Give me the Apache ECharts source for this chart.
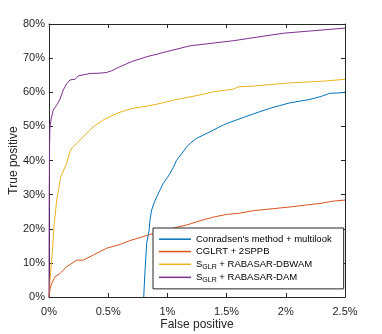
<html>
<head>
<title>ROC</title>
<script src="https://cdn.jsdelivr.net/npm/echarts@6/dist/echarts.min.js"></script>
<style type="text/css">
body{margin:0;background:#fff;}
</style>
</head>
<body>
<div id="main" style="width:382px;height:334px;"></div>
<script type="text/javascript">
// series names + curves, x = false positive (%), y = true positive (%)
var names = ["Conradsen's method + multilook", 'CGLRT + 2SPPB', 'SGLR + RABASAR-DBWAM', 'SGLR + RABASAR-DAM'];
var colors = ['#0072BD', '#D95319', '#EDB120', '#7E2F8E'];

var conX = [0.8, 0.81, 0.825, 0.845, 0.853, 0.867, 0.89, 0.91, 0.94, 0.965, 1.0, 1.022, 1.05, 1.078, 1.12, 1.163, 1.2, 1.247, 1.3, 1.36, 1.42, 1.472, 1.53, 1.585, 1.64, 1.698, 1.78, 1.866, 1.95, 2.035, 2.12, 2.204, 2.3, 2.373, 2.45, 2.5];
var conY = [0, 7, 15.7, 19.5, 22.6, 25.5, 27.8, 29.4, 31.5, 33.3, 35, 36.2, 38, 40.1, 42, 44.0, 45.3, 46.5, 47.4, 48.4, 49.5, 50.4, 51.2, 51.9, 52.6, 53.3, 54.3, 55.3, 56.1, 56.9, 57.4, 57.9, 58.8, 59.7, 59.8, 60.0];

var cglX = [0, 0.01, 0.023, 0.051, 0.093, 0.149, 0.2, 0.234, 0.29, 0.374, 0.43, 0.487, 0.6, 0.68, 0.769, 0.85, 0.937, 1.05, 1.163, 1.3, 1.4, 1.5, 1.6, 1.726, 1.9, 2.063, 2.18, 2.289, 2.4, 2.5];
var cglY = [0, 2.5, 4.0, 5.9, 6.9, 8.9, 10.0, 10.8, 10.8, 12.3, 13.3, 14.3, 15.4, 16.5, 17.4, 18.3, 19.1, 20.2, 21.1, 22.6, 23.5, 24.2, 24.5, 25.3, 25.9, 26.5, 27.0, 27.4, 28.1, 28.4];

var dbwX = [0, 0.008, 0.023, 0.042, 0.065, 0.099, 0.149, 0.177, 0.191, 0.234, 0.29, 0.374, 0.459, 0.572, 0.656, 0.712, 0.77, 0.91, 1.08, 1.275, 1.4, 1.557, 1.6, 1.726, 2.06, 2.3, 2.5];
var dbwY = [0, 5, 10.8, 20.6, 28.4, 35.2, 39.2, 42.6, 43.6, 45.0, 47.0, 49.9, 51.9, 53.8, 54.8, 55.3, 55.6, 56.5, 57.9, 59.2, 60.2, 60.9, 61.6, 61.8, 62.8, 63.2, 63.8];

var damX = [0, 0.002, 0.005, 0.008, 0.02, 0.036, 0.07, 0.093, 0.121, 0.15, 0.177, 0.22, 0.248, 0.346, 0.431, 0.487, 0.53, 0.6, 0.7, 0.825, 0.994, 1.19, 1.557, 1.98, 2.5];
var damY = [0, 30, 45, 50, 52.5, 54.8, 56.5, 58.0, 60.7, 62.5, 63.6, 63.8, 64.8, 65.5, 65.6, 65.8, 66.3, 67.5, 69.0, 70.4, 71.9, 73.6, 75.1, 77.3, 78.8];

function zip(xs, ys) {
	var out = [];
	for (var i = 0; i < xs.length; i++) out.push([xs[i], ys[i]]);
	return out;
}

var curves = [zip(conX, conY), zip(cglX, cglY), zip(dbwX, dbwY), zip(damX, damY)];
var ink = '#262626';

var series = [];
for (var i = 0; i < names.length; i++) {
	series.push({
		name: names[i],
		type: 'line',
		data: curves[i],
		symbol: 'none',
		showSymbol: false,
		animation: false,
		lineStyle: {width: 1, color: colors[i]},
		itemStyle: {color: colors[i]}
	});
}

// box axes (top/right) only draw line + inward ticks
function boxX(pos, withLabels) {
	return {
		type: 'value', position: pos,
		min: 0, max: 2.5, interval: 0.5,
		axisLine: {show: true, onZero: false, lineStyle: {color: ink, width: 1}},
		axisTick: {show: true, inside: true, length: 4, lineStyle: {color: ink}},
		axisLabel: {show: withLabels, color: ink, fontSize: 11, margin: 5, formatter: function (v) { return v + '%'; }},
		splitLine: {show: false}
	};
}
function boxY(pos, withLabels) {
	return {
		type: 'value', position: pos,
		min: 0, max: 80, interval: 10,
		axisLine: {show: true, onZero: false, lineStyle: {color: ink, width: 1}},
		axisTick: {show: true, inside: true, length: 4, lineStyle: {color: ink}},
		axisLabel: {show: withLabels, color: ink, fontSize: 11, margin: 4, formatter: '{value}%'},
		splitLine: {show: false}
	};
}

var xMain = boxX('bottom', true);
xMain.name = 'False positive';
xMain.nameLocation = 'middle';
xMain.nameGap = 17;
xMain.nameMoveOverlap = false;
xMain.nameTextStyle = {color: ink, fontSize: 12};
var yMain = boxY('left', true);
yMain.name = 'True positive';
yMain.nameLocation = 'middle';
yMain.nameGap = 25;
yMain.nameMoveOverlap = false;
yMain.nameTextStyle = {color: ink, fontSize: 12};

var myChart = echarts.init(document.getElementById('main'));
var option = {
	backgroundColor: '#fff',
	textStyle: {fontFamily: 'Liberation Sans, Arial, sans-serif'},
	grid: {left: 49, right: 37, top: 24, bottom: 37, containLabel: false, outerBoundsMode: 'none'},
	legend: {
		orient: 'vertical',
		left: 153,
		top: 228,
		padding: [3, 12, 3, 6],
		itemGap: -4,
		icon: 'rect',
		itemWidth: 32,
		itemHeight: 1.5,
		borderColor: ink,
		borderWidth: 1,
		borderRadius: 0,
		backgroundColor: '#fff',
		data: names,
		formatter: function (n) {
			if (n.indexOf('SGLR') === 0) return '{t|S}{s|GLR}{t|' + n.slice(4) + '}';
			return '{t|' + n + '}';
		},
		textStyle: {
			color: '#000',
			fontSize: 9.5,
			lineHeight: 12,
			rich: {
				t: {fontSize: 9.5, lineHeight: 12, color: '#000', fontFamily: 'Liberation Sans'},
				s: {fontSize: 7, lineHeight: 8, color: '#000', fontFamily: 'Liberation Sans', padding: [5, 0, 0, 0]}
			}
		}
	},
	xAxis: [xMain, boxX('top', false)],
	yAxis: [yMain, boxY('right', false)],
	series: series
};
myChart.setOption(option);
</script>
</body>
</html>
